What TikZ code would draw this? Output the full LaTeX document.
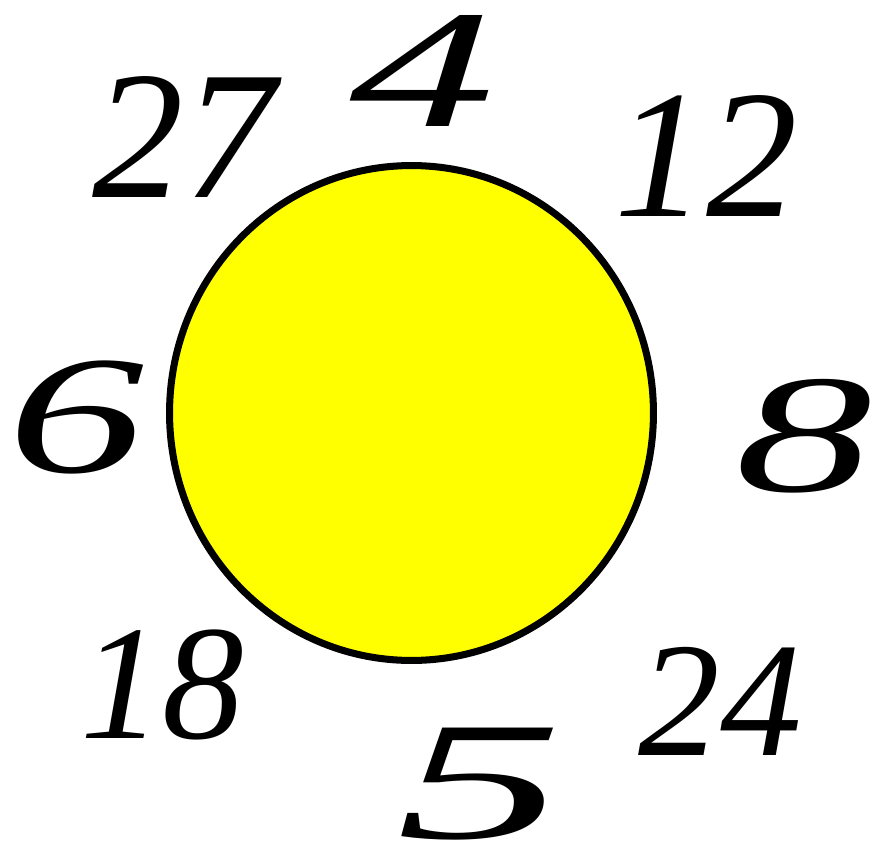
\documentclass[tikz,border=0pt]{standalone}
\usepackage{fontspec}
\setmainfont{Liberation Serif}
\usepackage{tikz}
\usetikzlibrary{shapes,positioning}

\definecolor{sunyellow}{RGB}{255,255,0}
\tikzset{
  num/.style={font=\itshape\fontsize{104}{104}\selectfont, inner sep=0pt},
  smallnum/.style={font=\itshape\fontsize{93}{93}\selectfont, inner sep=0pt},
  bignum/.style={font=\itshape\fontsize{96}{96}\selectfont, inner sep=0pt}
}

\begin{document}
\begin{tikzpicture}[x=0.02cm, y=-0.02cm]
\useasboundingbox (0,0) rectangle (873,849);
\node (sun) [draw, line width=4pt, fill=sunyellow, ellipse, inner sep=0pt, minimum width=9.68cm, minimum height=9.9cm] at (411.5,413) {};
\node (n4)  [bignum, xscale=1.73] at (422,71)  {4};
\node (n27) [num] at (184,137) {27};
\node (n12) [num] at (706,156) {12};
\node (n6)  [bignum, xscale=1.63] at (76,417)  {6};
\node (n8)  [bignum, xscale=1.63] at (804,436) {8};
\node (n18) [smallnum] at (162,685) {18};
\node (n24) [smallnum] at (720,701) {24};
\node (n5)  [bignum, xscale=1.98] at (480,784) {5};
\end{tikzpicture}
\end{document}
